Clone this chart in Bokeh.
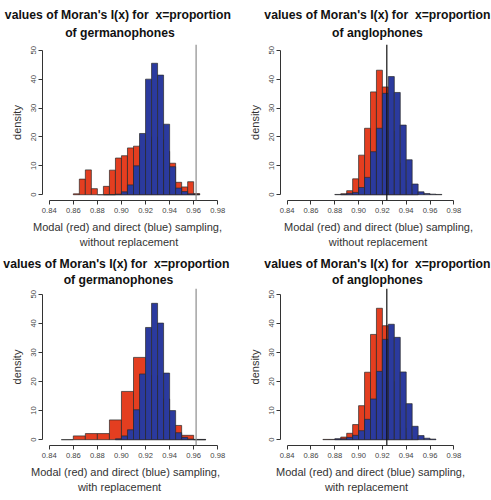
import numpy as np
from bokeh.plotting import figure
from bokeh.layouts import row, column
from bokeh.models import Title, Span, FixedTicker, NumeralTickFormatter, Range1d
from bokeh.embed import file_html
from bokeh.resources import INLINE

# ---------------- data ----------------
title_line1 = "values of Moran's I(x) for \u00a0x=proportion"
title_line2 = ["of germanophones", "of anglophones", "of germanophones", "of anglophones"]
xlabel_line1 = "Modal (red) and direct (blue) sampling,"
xlabel_line2 = ["without replacement", "without replacement", "with replacement", "with replacement"]
ylabel = "density"
x_ticks = [0.84, 0.86, 0.88, 0.90, 0.92, 0.94, 0.96, 0.98]
y_ticks = [0, 10, 20, 30, 40, 50]

# panel 1: germanophones, without replacement
p1_red_start, p1_red_width = 0.860, 0.005
p1_red = [0.3, 5.4, 8.6, 2.1, 0.0, 2.9, 8.5, 12.7, 13.5, 16.2, 16.8,
          17.0, 19.0, 20.0, 19.0, 15.0, 10.9, 4.3, 2.7, 4.5, 0.4]
p1_blue_start, p1_blue_width = 0.885, 0.005
p1_blue = [0.0, 0.0, 0.2, 1.0, 3.4, 10.0, 21.2, 40.0, 45.5, 41.4, 24.4,
           9.7, 2.3, 1.1, 0.3, 0.1]
p1_observed = 0.962

# panel 2: anglophones, without replacement
p2_red_start, p2_red_width = 0.885, 0.005
p2_red = [0.3, 1.4, 5.5, 13.7, 23.0, 35.6, 43.1, 37.3, 22.0, 11.0, 5.0, 2.0, 0.5]
p2_blue_start, p2_blue_width = 0.880, 0.005
p2_blue = [0.1, 0.2, 0.5, 0.8, 2.5, 6.0, 14.9, 23.0, 35.1, 40.9, 35.4, 24.1,
           12.1, 3.7, 1.0, 0.4, 0.2, 0.1]
p2_observed = 0.9237

# panel 3: germanophones, with replacement
p3_red_start, p3_red_width = 0.85, 0.01
p3_red = [0.0, 1.3, 2.1, 2.1, 6.8, 16.6, 28.3, 22.0, 14.0, 4.9, 1.5, 0.0]
p3_blue_start, p3_blue_width = 0.895, 0.005
p3_blue = [0.3, 1.3, 3.4, 10.3, 22.6, 38.6, 46.9, 40.1, 22.9, 10.0, 2.4, 0.8,
           0.2, 0.1, 0.1]
p3_observed = 0.962

# panel 4: anglophones, with replacement
p4_red_start, p4_red_width = 0.870, 0.005
p4_red = [0.1, 0.1, 0.2, 0.9, 2.2, 5.2, 11.7, 23.2, 36.2, 45.2, 39.2, 20.0,
          10.0, 4.0, 1.5, 0.5]
p4_blue_start, p4_blue_width = 0.880, 0.005
p4_blue = [0.3, 0.3, 0.8, 1.5, 3.1, 7.0, 14.0, 23.5, 34.5, 39.7, 35.2, 23.3,
           12.4, 4.6, 1.4, 0.5, 0.2]
p4_observed = 0.9237

# ---------------- style ----------------
FONT = "Liberation Sans"
RED = "#E43E20"
BLUE = "#2B3A9E"
EDGE = "#2a2a2a"
AXIS = "#333333"
TICKC = "#444444"
LABC = "#333333"
TITC = "#111111"
TITLE_PX = 12.2
LABEL_PX = 11.0
X_LO, X_HI = 0.84 - 0.04 * 0.14, 0.98 + 0.04 * 0.14
Y_LO, Y_HI = -2, 52

# approximate Arial / Liberation Sans advance widths (per 1000 em)
_REG = {" ": 278, "(": 333, ")": 333, ",": 278, "M": 833, "a": 556, "b": 556,
        "c": 500, "d": 556, "e": 556, "g": 556, "h": 556, "i": 222, "l": 222,
        "m": 833, "n": 556, "o": 556, "p": 556, "r": 333, "s": 500, "t": 278,
        "u": 556, "w": 722}
_BOLD = {" ": 278, "\u00a0": 278, "'": 238, "(": 333, ")": 333, "=": 584, "I": 278,
         "M": 833, "a": 556, "e": 556, "f": 333, "g": 611, "h": 611, "i": 278,
         "l": 278, "n": 611, "o": 611, "p": 611, "r": 389, "s": 556, "t": 333,
         "u": 611, "v": 556, "x": 556}


def text_w(s, px, bold):
    tab = _BOLD if bold else _REG
    return sum(tab.get(ch, 556) for ch in s) * px / 1000.0


def panel(rs, rw, rv, bs, bw, bv, obs, obs_color, t2, xl2,
          width, height, fl, fr, ft, fb, t_center, x1_center, x2_center, t2_standoff):
    p = figure(width=width, height=height,
               x_range=Range1d(X_LO, X_HI), y_range=Range1d(Y_LO, Y_HI),
               output_backend="svg", toolbar_location=None, tools="",
               min_border_left=fl, min_border_right=width - fr,
               min_border_top=ft, min_border_bottom=height - fb)
    p.outline_line_color = None
    p.grid.visible = False
    p.background_fill_color = "white"
    p.border_fill_color = "white"

    rl = [rs + i * rw for i in range(len(rv))]
    p.quad(left=rl, right=[v + rw for v in rl], bottom=0, top=rv,
           fill_color=RED, line_color=EDGE, line_width=0.7)
    bl = [bs + i * bw for i in range(len(bv))]
    p.quad(left=bl, right=[v + bw for v in bl], bottom=0, top=bv,
           fill_color=BLUE, line_color=EDGE, line_width=0.7)
    p.add_layout(Span(location=obs, dimension="height",
                      line_color=obs_color, line_width=1.2))

    xa = p.xaxis[0]
    xa.ticker = FixedTicker(ticks=x_ticks)
    xa.bounds = (x_ticks[0], x_ticks[-1])
    xa.formatter = NumeralTickFormatter(format="0.00")
    ya = p.yaxis[0]
    ya.ticker = FixedTicker(ticks=y_ticks)
    ya.bounds = (y_ticks[0], y_ticks[-1])
    ya.major_label_orientation = "vertical"
    for a in (xa, ya):
        a.major_tick_out = 4
        a.major_tick_in = 0
        a.minor_tick_out = 0
        a.minor_tick_in = 0
        a.axis_line_color = AXIS
        a.major_tick_line_color = AXIS
        a.axis_line_width = 1
        a.major_label_text_font = FONT
        a.major_label_text_font_size = "7.6px"
        a.major_label_text_color = TICKC
        a.major_label_standoff = 3
    ya.major_label_standoff = 2
    ya.axis_label = ylabel
    ya.axis_label_text_font = FONT
    ya.axis_label_text_font_size = "11px"
    ya.axis_label_text_font_style = "normal"
    ya.axis_label_text_color = LABC
    ya.axis_label_standoff = 6

    def off(txt, center, px, bold):
        # left-aligned title: offset from frame left so the text is centred at `center`
        return center - text_w(txt, px, bold) / 2.0 - fl

    p.title.text = ""
    p.add_layout(Title(text=t2, align="left", offset=off(t2, t_center, TITLE_PX, True),
                       text_font=FONT, text_font_size=f"{TITLE_PX}px", text_font_style="bold",
                       text_color=TITC, standoff=t2_standoff), "above")
    p.add_layout(Title(text=title_line1, align="left",
                       offset=off(title_line1, t_center, TITLE_PX, True),
                       text_font=FONT, text_font_size=f"{TITLE_PX}px", text_font_style="bold",
                       text_color=TITC, standoff=-5), "above")
    p.add_layout(Title(text=xlabel_line1, align="left",
                       offset=off(xlabel_line1, x1_center, LABEL_PX, False),
                       text_font=FONT, text_font_size=f"{LABEL_PX}px", text_font_style="normal",
                       text_color=LABC, standoff=6), "below")
    p.add_layout(Title(text=xl2, align="left", offset=off(xl2, x2_center, LABEL_PX, False),
                       text_font=FONT, text_font_size=f"{LABEL_PX}px", text_font_style="normal",
                       text_color=LABC, standoff=-4), "below")
    return p


p1 = panel(p1_red_start, p1_red_width, p1_red, p1_blue_start, p1_blue_width, p1_blue,
           p1_observed, "#8c8c8c", title_line2[0], xlabel_line2[0],
           245, 250, 42, 224, 42, 200, 117.5, 127, 128.5, 9)
p2 = panel(p2_red_start, p2_red_width, p2_red, p2_blue_start, p2_blue_width, p2_blue,
           p2_observed, "#111111", title_line2[1], xlabel_line2[1],
           246, 250, 35, 215, 44, 200, 132, 133, 132.5, 9)
p3 = panel(p3_red_start, p3_red_width, p3_red, p3_blue_start, p3_blue_width, p3_blue,
           p3_observed, "#8c8c8c", title_line2[2], xlabel_line2[2],
           245, 250, 42, 224, 38, 195, 116, 125, 119, 4)
p4 = panel(p4_red_start, p4_red_width, p4_red, p4_blue_start, p4_blue_width, p4_blue,
           p4_observed, "#111111", title_line2[3], xlabel_line2[3],
           246, 250, 35, 215, 38, 195, 132, 125, 121, 4)

layout = column(row(p1, p2), row(p3, p4))
open("out.html", "w").write(file_html(layout, INLINE))
